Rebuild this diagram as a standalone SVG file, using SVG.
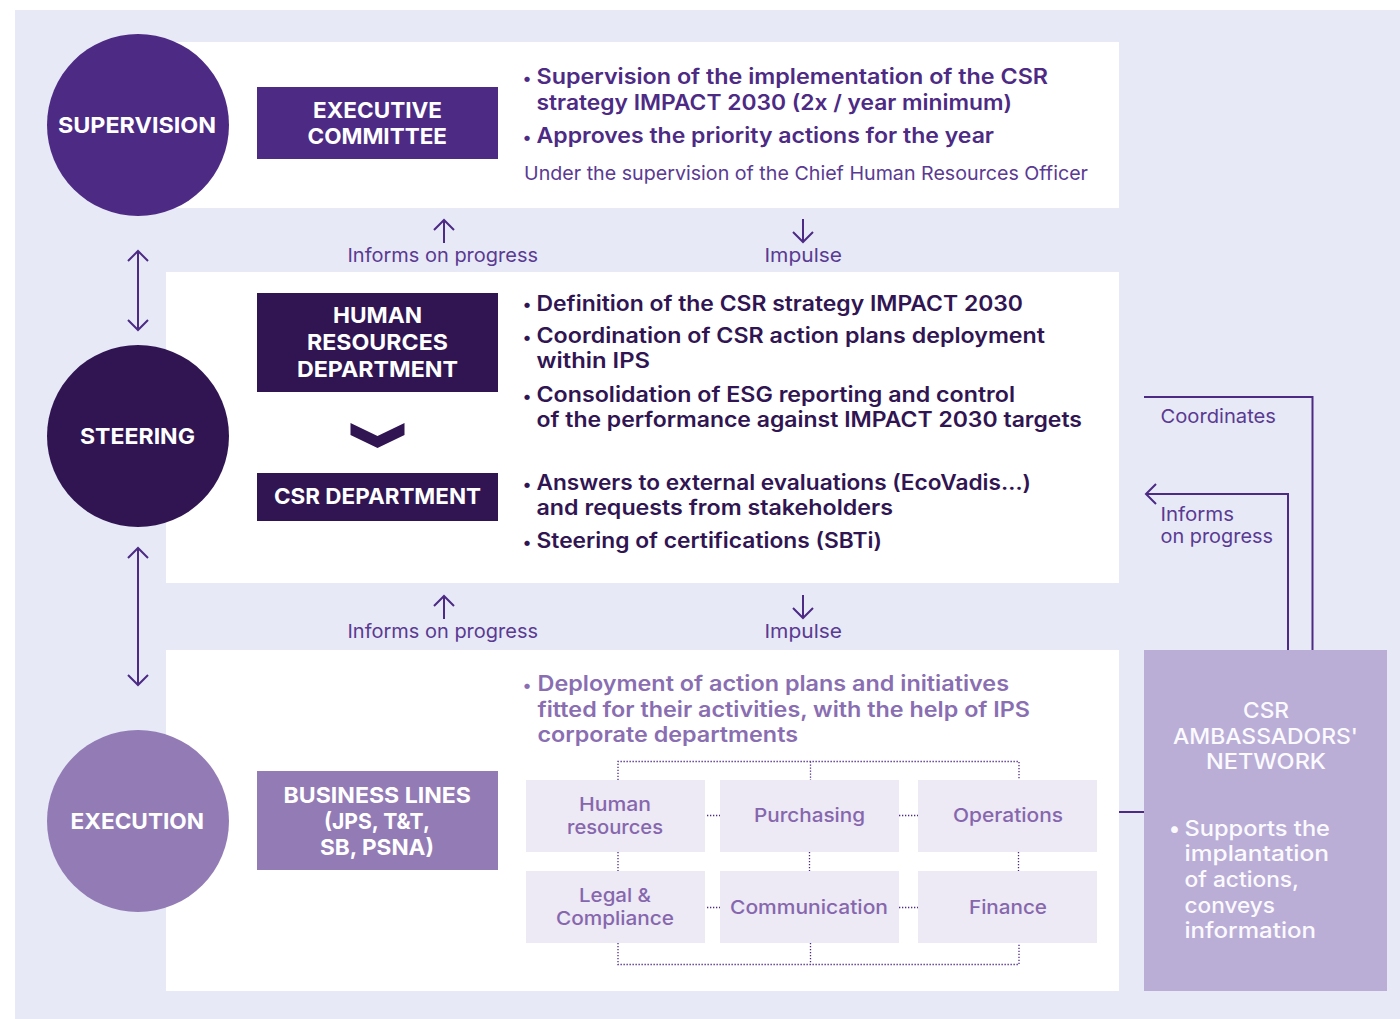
<svg xmlns="http://www.w3.org/2000/svg" width="1400" height="1019" viewBox="0 0 1400 1019">
<defs>
<marker id="head" markerWidth="22" markerHeight="22" refX="11" refY="11" orient="auto-start-reverse" markerUnits="userSpaceOnUse">
<path d="M1 1 L11 11 L1 21" fill="none" stroke="#4d2a84" stroke-width="2"/>
</marker>
</defs>
<style>
text{font-family:Inter,"Liberation Sans",sans-serif}
.w{fill:#fff;font-weight:700;font-size:22px}
.b1{fill:#4d2a84;font-weight:600;font-size:21px}
.b2{fill:#301552;font-weight:600;font-size:21px}
.b3{fill:#8a6eb2;font-weight:600;font-size:21px}
.dotb{font-size:17px;text-anchor:middle;font-weight:600}
.r{fill:#5a3a92;font-weight:400;font-size:19px}
.a{fill:#fbfaff;font-weight:500;font-size:21.5px}
.d{fill:#8667ad;font-weight:500;font-size:19px}
.line{fill:none;stroke:#4d2a84;stroke-width:2}
.dot{fill:none;stroke:#4d2a84;stroke-width:1.3;stroke-dasharray:1.3 1.7}
.box{fill:#ede9f5}
</style>
<rect x="15" y="10" width="1385" height="1009" fill="#e7e9f6"/>
<g id="panels" fill="#fff">
<rect x="166" y="42" width="953" height="166"/>
<rect x="166" y="272" width="953" height="311"/>
<rect x="166" y="650" width="953" height="341"/>
</g>
<g id="connectors">
<path class="line" d="M1144 397H1312.500V650"/>
<path class="line" marker-start="url(#head)" d="M1146 494H1288V650"/>
<path class="line" d="M1119 812H1144"/>
<path class="line" marker-start="url(#head)" marker-end="url(#head)" d="M138 251V330"/>
<path class="line" marker-start="url(#head)" marker-end="url(#head)" d="M138 548V685"/>
<path class="line" marker-start="url(#head)" d="M444 220V243"/>
<path class="line" marker-end="url(#head)" d="M803 219V242"/>
<path class="line" marker-start="url(#head)" d="M444 596V619"/>
<path class="line" marker-end="url(#head)" d="M803 595V618"/>
<path class="dot" d="M618 780V761.500H1019V780M810.500 761.500V780M618 852V871M809.500 852V871M1018.500 852V871M618 943V964.500H1019V943M810.500 943V964.500M707 815.500H720M899 815.500H918M707 907.500H720M899 907.500H918"/>
</g>
<g id="supervision">
<circle cx="138" cy="125" r="91" fill="#4d2a84"/>
<text class="w" x="58" y="132.500" textLength="158" lengthAdjust="spacingAndGlyphs">SUPERVISION</text>
</g>
<g id="steering">
<circle cx="138" cy="436" r="91" fill="#301552"/>
<text class="w" x="80" y="444" textLength="115" lengthAdjust="spacingAndGlyphs">STEERING</text>
</g>
<g id="execution">
<circle cx="138" cy="821" r="91" fill="#937bb5"/>
<text class="w" x="70.500" y="828.500" textLength="133.500" lengthAdjust="spacingAndGlyphs">EXECUTION</text>
</g>
<g id="executive-committee">
<rect x="257" y="87" width="241" height="72" fill="#4d2a84"/>
<text class="w" x="313" y="117.500" textLength="129" lengthAdjust="spacingAndGlyphs">EXECUTIVE</text>
<text class="w" x="307.500" y="144" textLength="139.500" lengthAdjust="spacingAndGlyphs">COMMITTEE</text>
</g>
<g id="hr-department">
<rect x="257" y="293" width="241" height="99" fill="#301552"/>
<text class="w" x="333" y="323" textLength="89" lengthAdjust="spacingAndGlyphs">HUMAN</text>
<text class="w" x="307" y="350" textLength="141" lengthAdjust="spacingAndGlyphs">RESOURCES</text>
<text class="w" x="297" y="377" textLength="161" lengthAdjust="spacingAndGlyphs">DEPARTMENT</text>
</g>
<polygon id="chevron" points="350.500,423 377.500,436 404.500,423 404.500,435 377.500,448 350.500,435" fill="#301552"/>
<g id="csr-department">
<rect x="257" y="473" width="241" height="48" fill="#301552"/>
<text class="w" x="274" y="504" textLength="207" lengthAdjust="spacingAndGlyphs">CSR DEPARTMENT</text>
</g>
<g id="business-lines">
<rect x="257" y="771" width="241" height="99" fill="#937bb5"/>
<text class="w" x="283.500" y="802.500" textLength="187.500" lengthAdjust="spacingAndGlyphs">BUSINESS LINES</text>
<text class="w" x="324" y="829" textLength="106" lengthAdjust="spacingAndGlyphs">(JPS, T&amp;T,</text>
<text class="w" x="320" y="855" textLength="114" lengthAdjust="spacingAndGlyphs">SB, PSNA)</text>
</g>
<g id="supervision-text">
<text class="b1 dotb" x="527" y="84">•</text>
<text class="b1" x="536.500" y="84" textLength="511.500" lengthAdjust="spacingAndGlyphs">Supervision of the implementation of the CSR</text>
<text class="b1" x="536.500" y="110" textLength="475.500" lengthAdjust="spacingAndGlyphs">strategy IMPACT 2030 (2x / year minimum)</text>
<text class="b1 dotb" x="527" y="143">•</text>
<text class="b1" x="536.500" y="143" textLength="457.500" lengthAdjust="spacingAndGlyphs">Approves the priority actions for the year</text>
<text class="r" x="524" y="180" textLength="564" lengthAdjust="spacingAndGlyphs">Under the supervision of the Chief Human Resources Officer</text>
</g>
<g id="steering-text">
<text class="b2 dotb" x="527" y="310">•</text>
<text class="b2" x="536.500" y="310.500" textLength="486.500" lengthAdjust="spacingAndGlyphs">Definition of the CSR strategy IMPACT 2030</text>
<text class="b2 dotb" x="527" y="343">•</text>
<text class="b2" x="536.500" y="342.500" textLength="508.500" lengthAdjust="spacingAndGlyphs">Coordination of CSR action plans deployment</text>
<text class="b2" x="536.500" y="368" textLength="113.500" lengthAdjust="spacingAndGlyphs">within IPS</text>
<text class="b2 dotb" x="527" y="402">•</text>
<text class="b2" x="536.500" y="402" textLength="478.500" lengthAdjust="spacingAndGlyphs">Consolidation of ESG reporting and control</text>
<text class="b2" x="536.500" y="427" textLength="545.500" lengthAdjust="spacingAndGlyphs">of the performance against IMPACT 2030 targets</text>
<text class="b2 dotb" x="527" y="490">•</text>
<text class="b2" x="536.500" y="490" textLength="494.500" lengthAdjust="spacingAndGlyphs">Answers to external evaluations (EcoVadis…)</text>
<text class="b2" x="536.500" y="515" textLength="356.500" lengthAdjust="spacingAndGlyphs">and requests from stakeholders</text>
<text class="b2 dotb" x="527" y="548">•</text>
<text class="b2" x="536.500" y="548" textLength="345.500" lengthAdjust="spacingAndGlyphs">Steering of certifications (SBTi)</text>
</g>
<g id="execution-text">
<text class="b3 dotb" x="527" y="691">•</text>
<text class="b3" x="537.500" y="691" textLength="471.500" lengthAdjust="spacingAndGlyphs">Deployment of action plans and initiatives</text>
<text class="b3" x="537.500" y="717" textLength="492.500" lengthAdjust="spacingAndGlyphs">fitted for their activities, with the help of IPS</text>
<text class="b3" x="537.500" y="742" textLength="260.500" lengthAdjust="spacingAndGlyphs">corporate departments</text>
</g>
<g id="flow-labels">
<text class="r" x="347.500" y="262" textLength="190.500" lengthAdjust="spacingAndGlyphs">Informs on progress</text>
<text class="r" x="764.500" y="262" textLength="77.500" lengthAdjust="spacingAndGlyphs">Impulse</text>
<text class="r" x="347.500" y="638" textLength="190.500" lengthAdjust="spacingAndGlyphs">Informs on progress</text>
<text class="r" x="764.500" y="638" textLength="77.500" lengthAdjust="spacingAndGlyphs">Impulse</text>
<text class="r" x="1160.500" y="423" textLength="115.500" lengthAdjust="spacingAndGlyphs">Coordinates</text>
<text class="r" x="1160.500" y="521" textLength="73.500" lengthAdjust="spacingAndGlyphs">Informs</text>
<text class="r" x="1160.500" y="543" textLength="112.500" lengthAdjust="spacingAndGlyphs">on progress</text>
</g>
<g id="dept-human-resources">
<rect class="box" x="526" y="780" width="179" height="72"/>
<text class="d" x="579" y="811" textLength="72" lengthAdjust="spacingAndGlyphs">Human</text>
<text class="d" x="567" y="834" textLength="96" lengthAdjust="spacingAndGlyphs">resources</text>
</g>
<g id="dept-purchasing">
<rect class="box" x="720" y="780" width="179" height="72"/>
<text class="d" x="754" y="822" textLength="111" lengthAdjust="spacingAndGlyphs">Purchasing</text>
</g>
<g id="dept-operations">
<rect class="box" x="918" y="780" width="179" height="72"/>
<text class="d" x="953" y="822" textLength="110" lengthAdjust="spacingAndGlyphs">Operations</text>
</g>
<g id="dept-legal">
<rect class="box" x="526" y="871" width="179" height="72"/>
<text class="d" x="579" y="902" textLength="72" lengthAdjust="spacingAndGlyphs">Legal &amp;</text>
<text class="d" x="556" y="925" textLength="118" lengthAdjust="spacingAndGlyphs">Compliance</text>
</g>
<g id="dept-communication">
<rect class="box" x="720" y="871" width="179" height="72"/>
<text class="d" x="730" y="914" textLength="158" lengthAdjust="spacingAndGlyphs">Communication</text>
</g>
<g id="dept-finance">
<rect class="box" x="918" y="871" width="179" height="72"/>
<text class="d" x="969" y="914" textLength="78" lengthAdjust="spacingAndGlyphs">Finance</text>
</g>
<g id="csr-ambassadors">
<rect x="1144" y="650" width="243" height="341" fill="#baaed6"/>
<text class="a" x="1243" y="718" textLength="46" lengthAdjust="spacingAndGlyphs">CSR</text>
<text class="a" x="1173" y="744" textLength="185" lengthAdjust="spacingAndGlyphs">AMBASSADORS'</text>
<text class="a" x="1206" y="769" textLength="120" lengthAdjust="spacingAndGlyphs">NETWORK</text>
<text class="a dotb" x="1174.500" y="836">•</text>
<text class="a" x="1184.500" y="836" textLength="145.500" lengthAdjust="spacingAndGlyphs">Supports the</text>
<text class="a" x="1184.500" y="861" textLength="144.500" lengthAdjust="spacingAndGlyphs">implantation</text>
<text class="a" x="1184.500" y="887" textLength="114.500" lengthAdjust="spacingAndGlyphs">of actions,</text>
<text class="a" x="1184.500" y="913" textLength="90.500" lengthAdjust="spacingAndGlyphs">conveys</text>
<text class="a" x="1184.500" y="938" textLength="131.500" lengthAdjust="spacingAndGlyphs">information</text>
</g>
</svg>
